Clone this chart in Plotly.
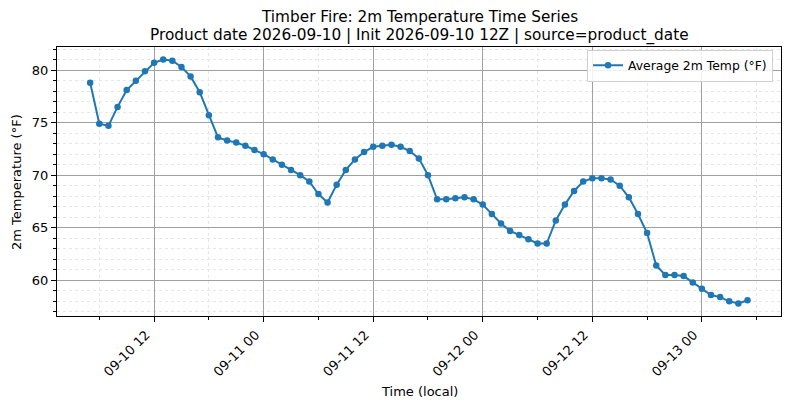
import plotly.graph_objects as go
import pandas as pd

# Hourly average 2m temperature, 2026-09-10 05:00 .. 2026-09-13 05:00 (local)
start_time = "2026-09-10 05:00"
temps_f = [
    78.8, 74.9, 74.7, 76.5, 78.1, 79.0, 79.9, 80.7, 81.0, 80.9,
    80.3, 79.4, 77.9, 75.7, 73.6, 73.3, 73.1, 72.8, 72.4, 72.0,
    71.5, 71.0, 70.5, 70.0, 69.4, 68.2, 67.4, 69.1, 70.5, 71.5,
    72.2, 72.7, 72.8, 72.9, 72.7, 72.3, 71.6, 70.0, 67.7, 67.7,
    67.8, 67.9, 67.7, 67.2, 66.3, 65.4, 64.7, 64.3, 63.9, 63.5,
    63.5, 65.7, 67.2, 68.5, 69.4, 69.7, 69.7, 69.6, 69.0, 67.9,
    66.3, 64.5, 61.4, 60.5, 60.5, 60.4, 59.8, 59.2, 58.6, 58.4,
    58.0, 57.8, 58.1,
]
times = pd.date_range(start_time, periods=len(temps_f), freq="h")

title_lines = [
    "Timber Fire: 2m Temperature Time Series",
    "Product date 2026-09-10 | Init 2026-09-10 12Z | source=product_date",
]
x_label = "Time (local)"
y_label = "2m Temperature (°F)"

font = "DejaVu Sans"
blue = "#1f77b4"
hour_ms = 3600 * 1000

fig = go.Figure()
fig.add_trace(go.Scatter(
    x=times,
    y=temps_f,
    mode="lines+markers",
    name="Average 2m Temp (°F)",
    line=dict(color=blue, width=2),
    marker=dict(color=blue, size=6.5),
))

# titles as annotations so the plot area stays put
fig.add_annotation(text=title_lines[0], xref="paper", yref="paper", x=0.5, y=1.111,
                   xanchor="center", yanchor="middle", showarrow=False,
                   font=dict(family=font, size=15.3, color="black"))
fig.add_annotation(text=title_lines[1], xref="paper", yref="paper", x=0.5, y=1.041,
                   xanchor="center", yanchor="middle", showarrow=False,
                   font=dict(family=font, size=15.3, color="black"))
fig.add_annotation(text=x_label, xref="paper", yref="paper", x=0.5, y=-0.279,
                   xanchor="center", yanchor="middle", showarrow=False,
                   font=dict(family=font, size=13, color="black"))
fig.add_annotation(text=y_label, xref="paper", yref="paper", x=-0.056, y=0.5,
                   xanchor="center", yanchor="middle", showarrow=False, textangle=-90,
                   font=dict(family=font, size=13, color="black"))

# page body has an 8px margin, so the figure is 8px smaller each way
fig.update_layout(
    width=782,
    height=401,
    paper_bgcolor="white",
    plot_bgcolor="white",
    margin=dict(l=49, r=9, t=39, b=93),
    font=dict(family=font, size=13, color="black"),
    showlegend=True,
    legend=dict(
        x=0.989, y=0.99, xanchor="right", yanchor="top",
        bgcolor="rgba(255,255,255,0.85)",
        bordercolor="#d0d0d0", borderwidth=1,
        font=dict(family=font, size=12.4),
        itemwidth=30,
    ),
)

fig.update_xaxes(
    type="date",
    automargin=False,
    range=["2026-09-10 01:22", "2026-09-13 08:40"],
    tick0="2026-09-10 00:00",
    dtick=12 * hour_ms,
    tickformat="%m-%d %H",
    tickangle=-45,
    ticklabelshift=-8,
    ticks="outside", ticklen=5, tickcolor="black",
    showline=True, linecolor="black", linewidth=1.3, mirror=True,
    showgrid=True, gridcolor="#a0a0a0", gridwidth=1,
    zeroline=False,
    minor=dict(
        dtick=6 * hour_ms, tick0="2026-09-10 00:00",
        ticks="outside", ticklen=3, tickcolor="black",
        showgrid=True, gridcolor="#e6e6e6", griddash="dot", gridwidth=1,
    ),
)

fig.update_yaxes(
    automargin=False,
    range=[56.6, 82.2],
    dtick=5, tick0=0,
    ticks="outside", ticklen=5, tickcolor="black",
    showline=True, linecolor="black", linewidth=1.3, mirror=True,
    showgrid=True, gridcolor="#a0a0a0", gridwidth=1,
    zeroline=False,
    minor=dict(
        dtick=1, tick0=0,
        ticks="outside", ticklen=3, tickcolor="black",
        showgrid=True, gridcolor="#e6e6e6", griddash="dot", gridwidth=1,
    ),
)

fig.write_html("out.html")
